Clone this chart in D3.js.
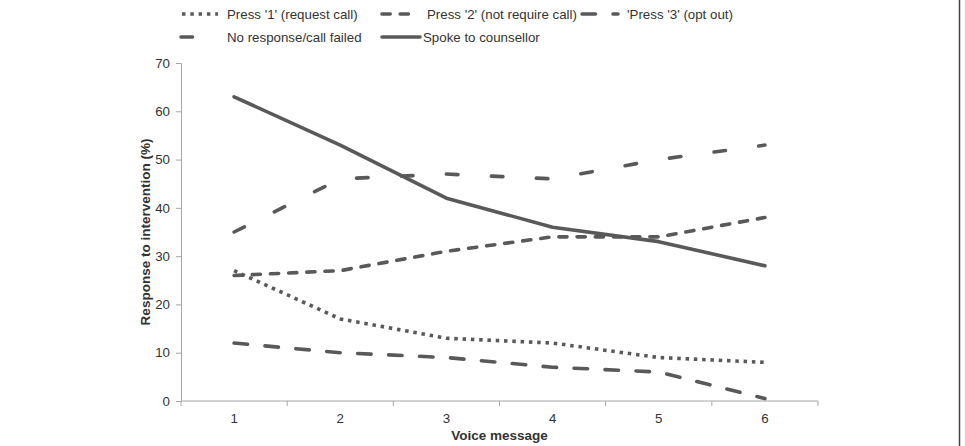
<!DOCTYPE html>
<html>
<head>
<meta charset="utf-8">
<script src="https://cdn.jsdelivr.net/npm/d3@7/dist/d3.min.js"></script>
<style>
  body { margin: 0; background: #fff; }
  svg text { font-family: "Liberation Sans", Arial, sans-serif; fill: #333; }
</style>
</head>
<body>
<div id="chart"></div>
<script>
const messages = ['1', '2', '3', '4', '5', '6'];
const press1 = [27, 17, 13, 12, 9, 8];
const press2 = [26, 27, 31, 34, 34, 38];
const press3 = [12, 10, 9, 7, 6, 0.5];
const noResponse = [35, 46, 47, 46, 50, 53];
const spoke = [63, 53, 42, 36, 33, 28];
const yTicks = [0, 10, 20, 30, 40, 50, 60, 70];

const series = [
  { name: "Press '1' (request call)", values: press1, dash: '3.5,4.8', cap: 'butt' },
  { name: "Press '2' (not require call)", values: press2, dash: '8.2,10', cap: 'round' },
  { name: "'Press '3' (opt out)", values: press3, dash: '13.5,17.5', cap: 'round' },
  { name: 'No response/call failed', values: noResponse, dash: '11.5,33.5', cap: 'round' },
  { name: 'Spoke to counsellor', values: spoke, dash: null, cap: 'round' }
];

const W = 965, H = 446;
const margin = { top: 63, right: 147, bottom: 45, left: 181 };
const width = W - margin.left - margin.right;
const height = H - margin.top - margin.bottom;
const lineColor = '#595959';
const axisColor = '#a6a6a6';
const fs = '13.3px';

const svg = d3.select('#chart').append('svg')
  .attr('width', W)
  .attr('height', H);

// right frame edge
svg.append('line')
  .attr('x1', 959.5).attr('x2', 959.5).attr('y1', 0).attr('y2', H)
  .attr('stroke', '#444').attr('stroke-width', 1.5);

const g = svg.append('g').attr('transform', 'translate(' + margin.left + ',' + margin.top + ')');

const x = d3.scaleBand().domain(messages).range([0, width]);
const y = d3.scaleLinear().domain([0, 70]).range([height, 0]);

// y axis
const yAxis = g.append('g')
  .call(d3.axisLeft(y).tickValues(yTicks).tickSize(5).tickPadding(6));
yAxis.select('.domain').attr('stroke', axisColor);
yAxis.selectAll('.tick line').attr('stroke', axisColor);
yAxis.selectAll('.tick text').style('font-size', fs).attr('fill', '#333');

// x axis, ticks at band boundaries
const xAxis = g.append('g').attr('transform', 'translate(0,' + height + ')');
xAxis.append('line')
  .attr('x1', 0).attr('x2', width)
  .attr('stroke', axisColor);
const bounds = messages.map(d => x(d)).concat([width]);
xAxis.selectAll('.bt').data(bounds).enter().append('line')
  .attr('x1', d => d).attr('x2', d => d)
  .attr('y1', 0).attr('y2', 5)
  .attr('stroke', axisColor);
xAxis.selectAll('.lbl').data(messages).enter().append('text')
  .attr('x', d => x(d) + x.bandwidth() / 2)
  .attr('y', 22)
  .attr('text-anchor', 'middle')
  .style('font-size', fs)
  .text(d => d);

// axis titles
g.append('text')
  .attr('x', width / 2)
  .attr('y', height + 39)
  .attr('text-anchor', 'middle')
  .style('font-size', '13.5px')
  .style('font-weight', 'bold')
  .text('Voice message');

g.append('text')
  .attr('transform', 'translate(-31,' + (height / 2) + ') rotate(-90)')
  .attr('text-anchor', 'middle')
  .style('font-size', '13.5px')
  .style('font-weight', 'bold')
  .text('Response to intervention (%)');

// lines
const line = d3.line()
  .x((d, i) => x(messages[i]) + x.bandwidth() / 2)
  .y(d => y(d));

series.forEach(s => {
  g.append('path')
    .datum(s.values)
    .attr('d', line)
    .attr('fill', 'none')
    .attr('stroke', lineColor)
    .attr('stroke-width', 3.6)
    .attr('stroke-linecap', s.cap)
    .attr('stroke-linejoin', 'round')
    .attr('stroke-dasharray', s.dash);
});

// legend
const legendPos = [
  { x: 182, y: 14, tx: 227 },
  { x: 382, y: 14, tx: 427 },
  { x: 582, y: 14, tx: 627 },
  { x: 181, y: 37, tx: 227 },
  { x: 382, y: 37, tx: 423 }
];
const legend = svg.append('g');
series.forEach((s, i) => {
  const p = legendPos[i];
  const len = s.dash ? 36 : 38;
  legend.append('line')
    .attr('x1', p.x).attr('x2', p.x + len)
    .attr('y1', p.y).attr('y2', p.y)
    .attr('stroke', lineColor)
    .attr('stroke-width', 3.6)
    .attr('stroke-linecap', s.cap)
    .attr('stroke-dasharray', s.dash);
  legend.append('text')
    .attr('x', p.tx)
    .attr('y', p.y + 5)
    .style('font-size', fs)
    .text(s.name);
});
</script>
</body>
</html>
